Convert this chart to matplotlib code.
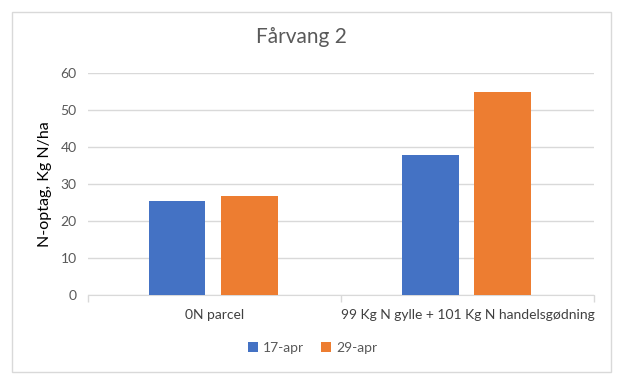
import numpy as np
import matplotlib
matplotlib.use("Agg")
import matplotlib.pyplot as plt
from matplotlib.patches import Rectangle

categories = ["0N parcel", "99 Kg N gylle + 101 Kg N handelsgødning"]
series_names = ["17-apr", "29-apr"]
apr17 = [25.5, 37.9]
apr29 = [26.8, 54.9]
colors = ["#4472C4", "#ED7D31"]
yticks = [0, 10, 20, 30, 40, 50, 60]

plt.rcParams['font.family'] = ['Lato', 'DejaVu Sans']

fig = plt.figure(figsize=(6.28, 3.90), dpi=100)
ax = fig.add_axes([0.140, 0.2436, 0.806, 0.5692])

x = np.arange(len(categories))
w = 0.225
ax.bar(x - 0.148, apr17, w, color=colors[0], label=series_names[0], zorder=3)
ax.bar(x + 0.138, apr29, w, color=colors[1], label=series_names[1], zorder=3)

ax.set_xlim(-0.5, 1.5)
ax.set_ylim(0, 60)
ax.set_yticks(yticks)
ax.set_xticks(x)
ax.set_xticklabels(categories)
ax.set_xticks([-0.5, 0.5, 1.5], minor=True)
ax.tick_params(axis='x', which='major', length=0, pad=10, labelsize=10, labelcolor="#404040")
ax.tick_params(axis='x', which='minor', length=5, color="#D9D9D9", width=1)
ax.tick_params(axis='y', length=0, pad=8, labelsize=10, labelcolor="#595959")
ax.grid(axis='y', color="#D9D9D9", linewidth=1, zorder=0)
for s in ["top", "right", "left"]:
    ax.spines[s].set_visible(False)
ax.spines["bottom"].set_color("#D9D9D9")
ax.set_ylabel("N-optag, Kg N/ha", fontsize=11.5, color="#000000", labelpad=6)

fig.text(0.48, 0.905, "Fårvang 2", ha='center', va='center', fontsize=15, color="#595959")

fig.legend(loc='center', bbox_to_anchor=(0.498, 0.108), ncol=2, frameon=False,
           handlelength=0.75, handleheight=0.75, handletextpad=0.35, columnspacing=1.2,
           fontsize=10, labelcolor="#595959")

fig.patches.append(Rectangle((12 / 628, 1 - 372 / 390), 599 / 628, 360 / 390,
                             transform=fig.transFigure, fill=False,
                             edgecolor="#D9D9D9", linewidth=1))

fig.savefig("out.png", dpi=100, facecolor="white")
